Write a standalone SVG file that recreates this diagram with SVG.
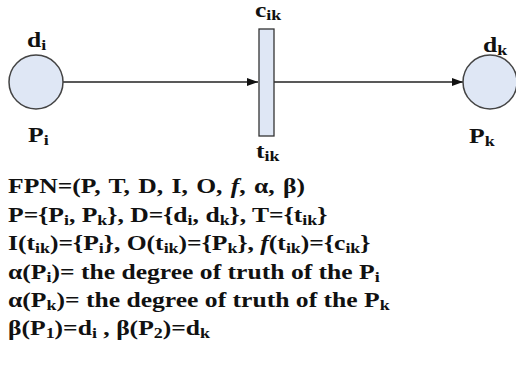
<svg xmlns="http://www.w3.org/2000/svg" width="516" height="368" viewBox="0 0 516 368">
<style>
text{font-family:"Liberation Serif","Times New Roman",serif;font-weight:bold;font-size:20px;fill:#111}
.s{font-size:14px}
.place{fill:#dfe7f5;stroke:#444;stroke-width:1.5}
.trans{fill:#dfe7f5;stroke:#333;stroke-width:1.3}
.arc{stroke:#222;stroke-width:1.3;fill:none}
</style>
<defs>
<marker id="ah" markerWidth="11" markerHeight="8" refX="11" refY="4" orient="auto" markerUnits="userSpaceOnUse">
<path d="M0,0 L11,4 L0,8 Z" fill="#111"/>
</marker>
</defs>
<rect width="516" height="368" fill="#fff"/>
<g id="connectors">
<line class="arc" x1="63" y1="82" x2="258" y2="82" marker-end="url(#ah)"/>
<line class="arc" x1="274" y1="82" x2="463" y2="82" marker-end="url(#ah)"/>
</g>
<g id="Pi">
<circle class="place" cx="36" cy="82" r="27"/>
<text transform="translate(27,47) scale(1.28,1)">d<tspan class="s" dy="3">i</tspan></text>
<text transform="translate(28,142) scale(1.28,1)">P<tspan class="s" dy="3">i</tspan></text>
</g>
<g id="tik">
<rect class="trans" x="259" y="29" width="15" height="107"/>
<text transform="translate(255,17) scale(1.28,1)">c<tspan class="s" dy="3">ik</tspan></text>
<text transform="translate(256,158) scale(1.28,1)">t<tspan class="s" dy="3">ik</tspan></text>
</g>
<g id="Pk">
<circle class="place" cx="490" cy="82" r="27"/>
<text transform="translate(483,52) scale(1.28,1)">d<tspan class="s" dy="3">k</tspan></text>
<text transform="translate(469,143) scale(1.28,1)">P<tspan class="s" dy="3">k</tspan></text>
</g>
<g id="definitions">
<text transform="translate(8,193) scale(1.28,1)" word-spacing="1.5">FPN=(P, T, D, I, O, <tspan font-style="italic">f</tspan>, α, β)</text>
<text transform="translate(8,222) scale(1.28,1)">P={P<tspan class="s" dy="3">i</tspan><tspan dy="-3">, P</tspan><tspan class="s" dy="3">k</tspan><tspan dy="-3">}, D={d</tspan><tspan class="s" dy="3">i</tspan><tspan dy="-3">, d</tspan><tspan class="s" dy="3">k</tspan><tspan dy="-3">}, T={t</tspan><tspan class="s" dy="3">ik</tspan><tspan dy="-3">}</tspan></text>
<text transform="translate(8,250) scale(1.28,1)">I(t<tspan class="s" dy="3">ik</tspan><tspan dy="-3">)={P</tspan><tspan class="s" dy="3">i</tspan><tspan dy="-3">}, O(t</tspan><tspan class="s" dy="3">ik</tspan><tspan dy="-3">)={P</tspan><tspan class="s" dy="3">k</tspan><tspan dy="-3">}, </tspan><tspan font-style="italic">f</tspan>(t<tspan class="s" dy="3">ik</tspan><tspan dy="-3">)={c</tspan><tspan class="s" dy="3">ik</tspan><tspan dy="-3">}</tspan></text>
<text transform="translate(8,279) scale(1.28,1)">α(P<tspan class="s" dy="3">i</tspan><tspan dy="-3">)= the degree of truth of the P</tspan><tspan class="s" dy="3">i</tspan></text>
<text transform="translate(8,307) scale(1.28,1)">α(P<tspan class="s" dy="3">k</tspan><tspan dy="-3">)= the degree of truth of the P</tspan><tspan class="s" dy="3">k</tspan></text>
<text transform="translate(8,335) scale(1.28,1)">β(P<tspan class="s" dy="3">1</tspan><tspan dy="-3">)=d</tspan><tspan class="s" dy="3">i</tspan><tspan dy="-3"> , β(P</tspan><tspan class="s" dy="3">2</tspan><tspan dy="-3">)=d</tspan><tspan class="s" dy="3">k</tspan></text>
</g>
</svg>
